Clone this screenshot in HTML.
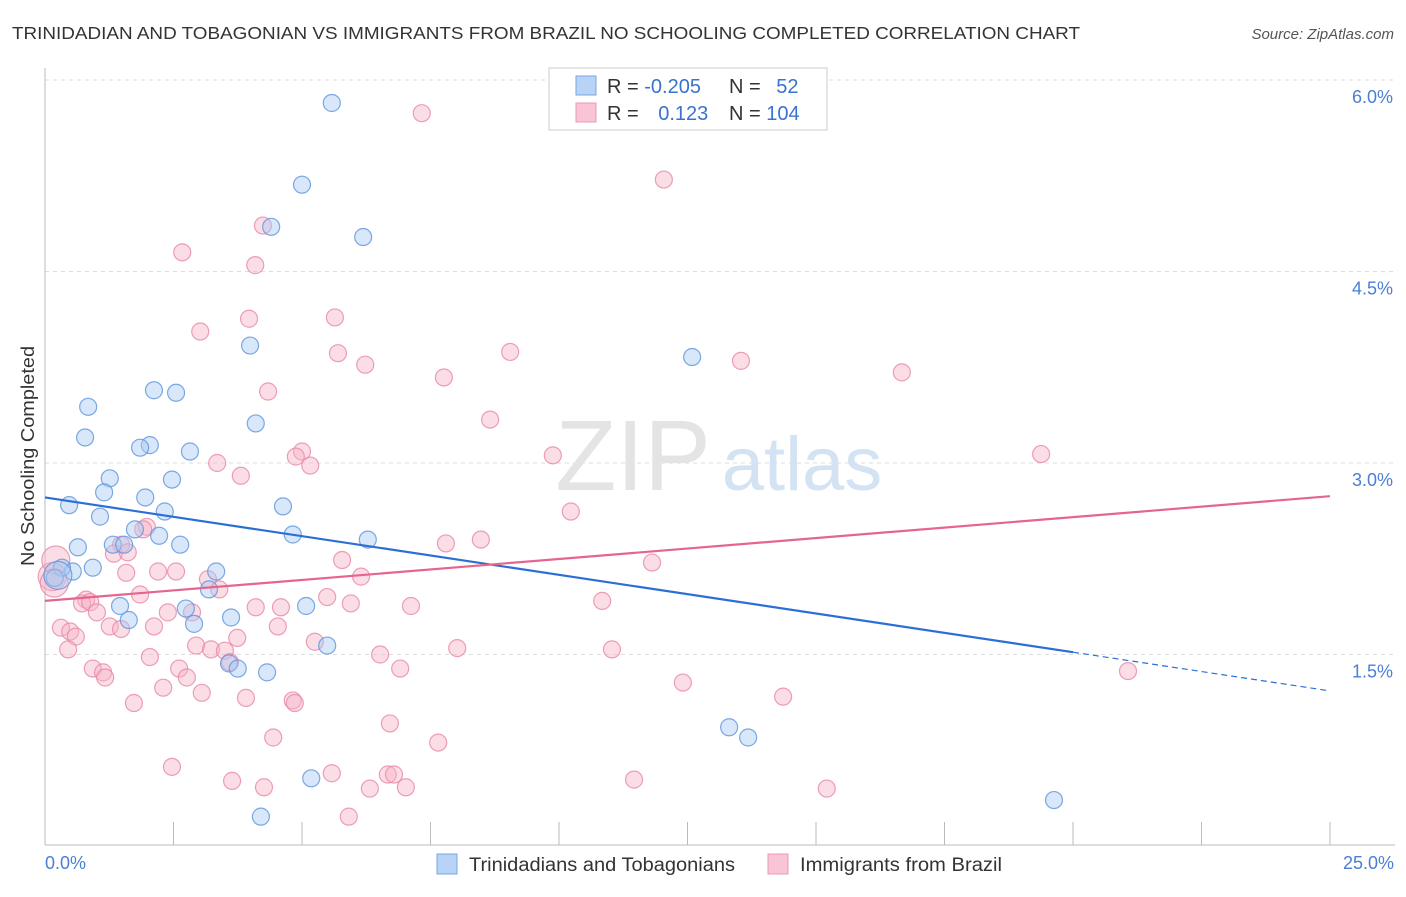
<!DOCTYPE html>
<html><head><meta charset="utf-8"><style>
body{margin:0;background:#fff;font-family:"Liberation Sans",sans-serif;}
svg text{font-family:"Liberation Sans",sans-serif;}
</style></head><body>
<svg width="1406" height="892" viewBox="0 0 1406 892" xmlns="http://www.w3.org/2000/svg">
<text x="12" y="39" font-size="17.5" fill="#333" textLength="1068" lengthAdjust="spacingAndGlyphs">TRINIDADIAN AND TOBAGONIAN VS IMMIGRANTS FROM BRAZIL NO SCHOOLING COMPLETED CORRELATION CHART</text>
<text x="1394" y="39" font-size="15" fill="#555" font-style="italic" text-anchor="end">Source: ZipAtlas.com</text>
<g id="grid"></g>
<g><text x="633" y="490" font-size="100" fill="#e4e4e4" font-family="Liberation Serif" text-anchor="middle">ZIP</text><text x="802" y="490" font-size="76" fill="#d4e3f4" text-anchor="middle">atlas</text></g>
<line x1="45" y1="68" x2="45" y2="845" stroke="#bbb"/>
<line x1="45" y1="845" x2="1395" y2="845" stroke="#bbb"/>
<g id="xticks"></g>
<g id="yticks"></g>
<text x="45" y="869" font-size="18" fill="#4a7fd4">0.0%</text>
<text x="1394" y="869" font-size="18" fill="#4a7fd4" text-anchor="end">25.0%</text>
<text transform="translate(34,456) rotate(-90)" font-size="18" fill="#333" text-anchor="middle" textLength="220" lengthAdjust="spacingAndGlyphs">No Schooling Completed</text>
<g id="pink"></g>
<g id="blue"></g>
<g id="lines"></g>
<g>
<rect x="549" y="68" width="278" height="62" fill="#fff" stroke="#ccc"/>
<rect x="576" y="76" width="20" height="19" fill="#b8d3f5" stroke="#7aa6e6"/>
<rect x="576" y="103" width="20" height="19" fill="#f9c4d5" stroke="#eb98b4"/>
<text x="607" y="93" font-size="20" fill="#333">R = <tspan fill="#3a72d0">-0.205</tspan></text>
<text x="729" y="93" font-size="20" fill="#333">N = <tspan fill="#3a72d0" dx="10">52</tspan></text>
<text x="607" y="120" font-size="20" fill="#333">R = <tspan fill="#3a72d0" dx="14">0.123</tspan></text>
<text x="729" y="120" font-size="20" fill="#333">N = <tspan fill="#3a72d0">104</tspan></text>
</g>
<g>
<rect x="437" y="854" width="20" height="20" fill="#b8d3f5" stroke="#7aa6e6"/>
<text x="469" y="871" font-size="19" fill="#333" textLength="266" lengthAdjust="spacingAndGlyphs">Trinidadians and Tobagonians</text>
<rect x="768" y="854" width="20" height="20" fill="#f9c4d5" stroke="#eb98b4"/>
<text x="800" y="871" font-size="19" fill="#333" textLength="202" lengthAdjust="spacingAndGlyphs">Immigrants from Brazil</text>
</g>
</svg>
<script>
const yTicks=[1.5,3.0,4.5,6.0];
const yTickLabels=["1.5%","3.0%","4.5%","6.0%"];
const xTicks=[0,2.5,5,7.5,10,12.5,15,17.5,20,22.5,25];
const blueX=[5.58,5.00,6.19,4.40,3.99,12.59,2.12,2.55,0.84,4.10,0.78,2.04,1.85,2.82,2.47,1.26,1.15,1.95,0.47,2.33,1.07,4.63,1.75,2.22,4.82,6.28,0.64,2.63,1.32,1.54,0.93,0.54,3.33,0.33,0.19,3.19,1.46,2.74,5.08,1.63,2.90,3.62,5.49,3.58,3.75,4.32,13.31,13.68,5.18,19.63,4.20,0.25];
const blueY=[5.82,5.18,4.77,4.85,3.92,3.83,3.57,3.55,3.44,3.31,3.20,3.14,3.12,3.09,2.87,2.88,2.77,2.73,2.67,2.62,2.58,2.66,2.48,2.43,2.44,2.40,2.34,2.36,2.36,2.36,2.18,2.15,2.15,2.18,2.10,2.01,1.88,1.86,1.88,1.77,1.74,1.79,1.57,1.43,1.39,1.36,0.93,0.85,0.53,0.36,0.23,2.12];
const pinkX=[7.33,12.04,4.24,2.67,4.09,3.02,3.97,5.64,5.70,6.23,9.05,13.54,16.67,7.76,4.34,8.66,19.38,9.88,5.00,4.88,5.16,3.35,3.81,10.23,1.98,1.91,7.80,8.48,1.48,1.34,1.61,11.81,5.78,1.58,2.20,2.55,3.17,6.15,0.14,0.21,0.18,5.49,5.95,0.80,0.72,0.88,1.85,3.39,4.10,4.59,7.12,10.84,1.01,2.39,2.86,0.31,1.26,2.12,1.48,4.53,0.49,0.60,3.74,5.25,2.94,0.45,3.23,8.02,11.03,2.04,3.50,6.52,3.60,0.93,2.61,1.13,6.91,1.17,2.76,2.30,3.05,12.41,3.91,4.82,14.36,4.86,1.73,6.71,4.44,7.65,2.47,5.58,6.67,6.79,11.46,3.64,4.26,7.02,6.32,15.21,5.91,21.07];
const pinkY=[5.74,5.22,4.86,4.65,4.55,4.03,4.13,4.14,3.86,3.77,3.87,3.80,3.71,3.67,3.56,3.34,3.07,3.06,3.09,3.05,2.98,3.00,2.90,2.62,2.50,2.48,2.37,2.40,2.36,2.29,2.30,2.22,2.24,2.14,2.15,2.15,2.09,2.11,2.11,2.24,2.06,1.95,1.90,1.93,1.90,1.91,1.97,2.01,1.87,1.87,1.88,1.92,1.83,1.83,1.83,1.71,1.72,1.72,1.70,1.72,1.68,1.64,1.63,1.60,1.57,1.54,1.54,1.55,1.54,1.48,1.53,1.50,1.44,1.39,1.39,1.36,1.39,1.32,1.32,1.24,1.20,1.28,1.16,1.14,1.17,1.12,1.12,0.96,0.85,0.81,0.62,0.57,0.56,0.56,0.52,0.51,0.46,0.46,0.45,0.45,0.23,1.37];
const blueBig=[51];
const pinkBig=[38,39,40];
const blueTrend=[2.73,-0.0606]; // intercept, slope
const pinkTrend=[1.92,0.0328];
const blueSolidEnd=20;

const NS="http://www.w3.org/2000/svg";
const X=v=>45+v*(1285/25);
const Y=v=>846-v*(766/6);
function mk(tag,attrs,parent){const e=document.createElementNS(NS,tag);for(const k in attrs)e.setAttribute(k,attrs[k]);parent.appendChild(e);return e;}
const grid=document.getElementById('grid'),yt=document.getElementById('yticks'),xt=document.getElementById('xticks');
yTicks.forEach((t,i)=>{
 const l=mk('line',{x1:45,x2:1395,y1:Y(t),y2:Y(t),stroke:'#ddd','stroke-dasharray':'4,4'},grid);
 
 
 const tx=mk('text',{x:1393,y:Y(t)+23,'font-size':18,fill:'#4a7fd4','text-anchor':'end'},yt);
 tx.textContent=yTickLabels[i];
 
 
});
xTicks.forEach(t=>{
 const l=mk('line',{x1:X(t),x2:X(t),y1:822,y2:845,stroke:'#bbb'},xt);
 
 
});
function pts(xs,ys,big,g,fill,stroke,name){
 xs.forEach((x,i)=>{
  const r=big.includes(i)?14:8.5;
  const c=mk('circle',{cx:X(x),cy:Y(ys[i]),r:r,fill:fill,'fill-opacity':0.45,stroke:stroke,'stroke-opacity':0.8,'stroke-width':1.2},g);
  
  
 });
}
pts(pinkX,pinkY,pinkBig,document.getElementById('pink'),'#f7b3c8','#e887a7','brazil-point');
pts(blueX,blueY,blueBig,document.getElementById('blue'),'#a9c9f1','#5d93dd','trinidad-point');
const lg=document.getElementById('lines');
const bl=mk('line',{x1:X(0),y1:Y(blueTrend[0]),x2:X(blueSolidEnd),y2:Y(blueTrend[0]+blueTrend[1]*blueSolidEnd),stroke:'#2b6fd6','stroke-width':2.2},lg);


const bd=mk('line',{x1:X(blueSolidEnd),y1:Y(blueTrend[0]+blueTrend[1]*blueSolidEnd),x2:X(25),y2:Y(blueTrend[0]+blueTrend[1]*25),stroke:'#2b6fd6','stroke-width':1.2,'stroke-dasharray':'6,4'},lg);


const pl=mk('line',{x1:X(0),y1:Y(pinkTrend[0]),x2:X(25),y2:Y(pinkTrend[0]+pinkTrend[1]*25),stroke:'#e5658f','stroke-width':2.2},lg);


</script>
</body></html>
